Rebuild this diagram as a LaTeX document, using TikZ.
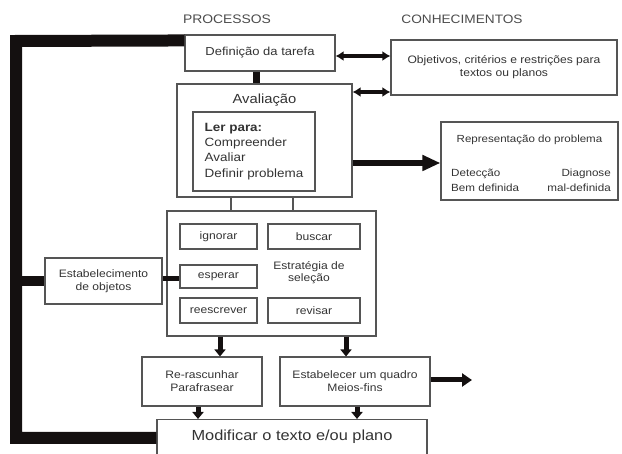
\documentclass[tikz,border=0pt]{standalone}
\usepackage{fontspec}
\setmainfont{Liberation Sans}[FakeStretch=1.12]
\usetikzlibrary{arrows.meta,calc}
\definecolor{boxc}{HTML}{555555}
\definecolor{txtc}{HTML}{333333}
\definecolor{barc}{HTML}{141010}
\newcommand{\fsz}[1]{\fontsize{#1}{#1}\selectfont}
\begin{document}
\begin{tikzpicture}[x=1pt,y=-1pt,
  box/.style={draw=boxc, line width=1.1pt, inner sep=0pt, text=txtc, align=center, font=\fsz{10.8}},
  lbl/.style={text=txtc, inner sep=0pt},
  bar/.style={draw=barc, line width=12pt, line join=miter},
  dbl/.style={draw=barc, line width=3.8pt, {Latex[length=8pt,width=10pt]}-{Latex[length=8pt,width=10pt]}},
  down/.style={draw=barc, line width=5pt, -{Triangle[length=7pt,width=11pt]}},
  thin/.style={draw=boxc, line width=1.1pt}]
\useasboundingbox (0,0) rectangle (622,454);
\clip (0,0) rectangle (622,454);

% headings
\node[lbl, font=\fsz{12.4}, text=black!70] (hproc) at (227,19) {PROCESSOS};
\node[lbl, font=\fsz{12.2}, text=black!70] (hcon) at (462,19) {CONHECIMENTOS};

% boxes
\node[box, minimum width=150, minimum height=36, font=\fsz{11.6}] (def) at (260,53) {Definição da tarefa};
\node[box, minimum width=226, minimum height=55, font=\fsz{10.8}, align=center] (con) at (504,67.5)
  {Objetivos, critérios e restrições para\\[2pt]textos ou planos};
\node[box, minimum width=175, minimum height=113] (aval) at (264.5,140.5) {};
\node[lbl, font=\fsz{13.2}] (avaltxt) at (264.5,100) {Avaliação};
\node[box, minimum width=122, minimum height=79, align=left, font=\fsz{12}] (ler) at (254,151.5)
  {{\bfseries Ler para:}\\[3.2pt]Compreender\\[3.2pt]Avaliar\\[3.2pt]Definir problema};

\node[box, minimum width=177, minimum height=78] (rep) at (529.5,161) {};
\node[lbl, font=\fsz{10.3}] (reptxt) at (529.5,140) {Representação do problema};
\node[lbl, font=\fsz{10.4}, anchor=west] (det) at (451,174) {Detecção};
\node[lbl, font=\fsz{10.4}, anchor=east] (diag) at (611,174) {Diagnose};
\node[lbl, font=\fsz{10.4}, anchor=west] (bem) at (451,188) {Bem definida};
\node[lbl, font=\fsz{10.4}, anchor=east] (mal) at (611,188) {mal-definida};

\node[box, minimum width=209, minimum height=125] (strat) at (271.5,273.5) {};
\node[box, minimum width=77, minimum height=25] (ign) at (218.5,236.5) {ignorar};
\node[box, minimum width=92, minimum height=25] (bus) at (314,236.5) {buscar};
\node[box, minimum width=77, minimum height=23] (esp) at (218.5,276.5) {esperar};
\node[box, minimum width=77, minimum height=25] (ree) at (218.5,310.5) {reescrever};
\node[box, minimum width=92, minimum height=25] (rev) at (314,310.5) {revisar};
\node[lbl, font=\fsz{10.8}, align=center] (esttxt) at (309,272.5) {Estratégia de\\[1pt]seleção};

\node[box, minimum width=117, minimum height=46, align=center] (obj) at (103.5,281)
  {Estabelecimento\\[2pt]de objetos};

\node[box, minimum width=120, minimum height=49] (rasc) at (202,381.5) {Re-rascunhar\\[2pt]Parafrasear};
\node[box, minimum width=150, minimum height=49] (meios) at (355,381.5) {Estabelecer um quadro\\[2pt]Meios-fins};
\node[box, minimum width=270, minimum height=60, anchor=north] (mod) at (292,419) {};
\node[lbl, font=\fsz{14.6}] (modtxt) at (292,437) {Modificar o texto e/ou plano};

\coordinate (out) at (472,380);

% thick left bar
\draw[bar] ($(def.north west)+(0,6)$) -- (16,41) -- (16,438) -- (mod.west |- 0,438);
\draw[bar, line width=10pt] (16,281) -- (obj.west);
\draw[draw=barc, line width=5pt] (obj.east |- 0,279) -- (esp.west |- 0,279);

% connectors
\draw[draw=barc, line width=7pt] (def.south -| 256,0) -- (aval.north -| 256,0);
\draw[dbl] (def.east |- 0,56) -- (con.west |- 0,56);
\draw[dbl] (aval.east |- 0,92) -- (con.west |- 0,92);
\draw[draw=barc, line width=6pt, -{Triangle[length=18pt,width=15pt]}] (aval.east |- 0,163) -- (rep.west |- 0,163);

\draw[thin] (aval.south -| 231,0) -- (strat.north -| 231,0);
\draw[thin] (aval.south -| 293,0) -- (strat.north -| 293,0);

\draw[down] (strat.south -| 220,0) -- (rasc.north -| 220,0);
\draw[down] (strat.south -| 346,0) -- (meios.north -| 346,0);
\draw[down] (rasc.south -| 198,0) -- (mod.north -| 198,0);
\draw[down] (meios.south -| 357,0) -- (mod.north -| 357,0);
\draw[draw=barc, line width=5pt, -{Triangle[length=10pt,width=13pt]}] (meios.east |- out) -- (out);
\end{tikzpicture}
\end{document}
